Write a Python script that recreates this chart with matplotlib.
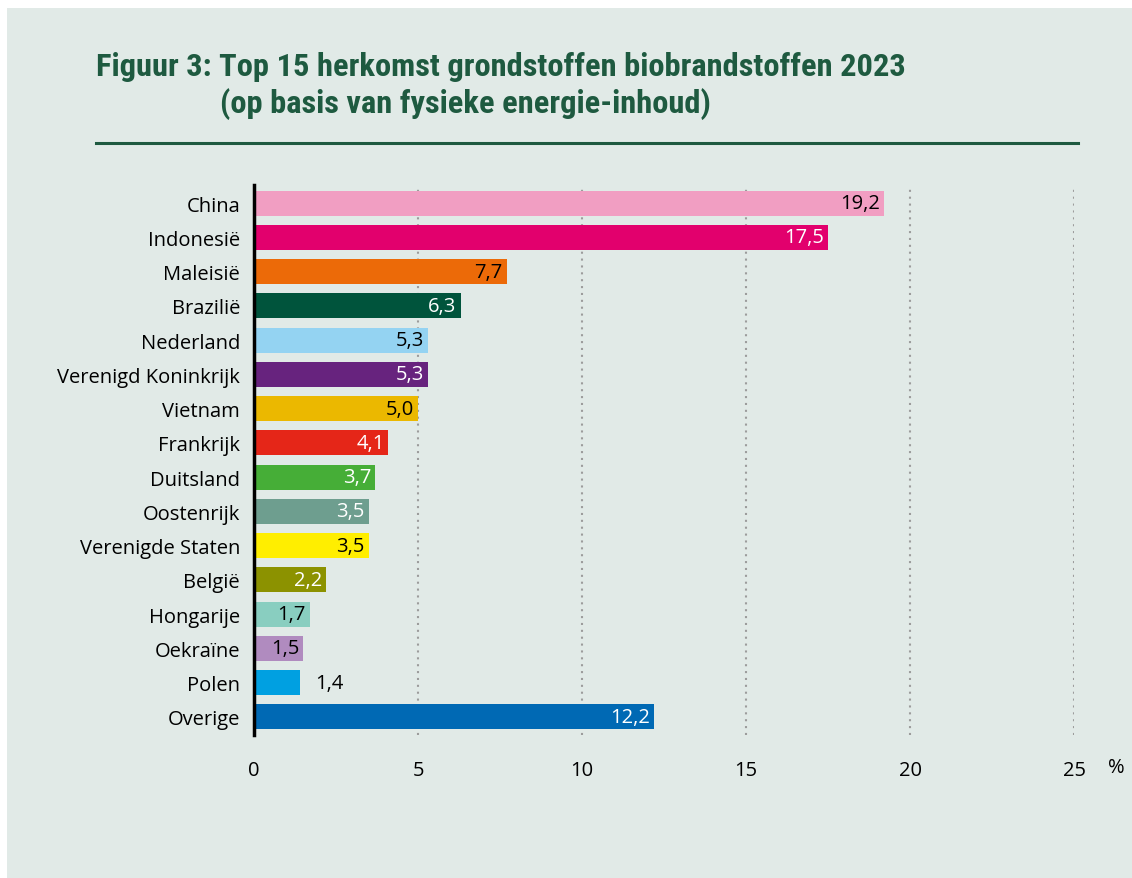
import matplotlib.pyplot as plt
from matplotlib.patches import Rectangle
from matplotlib.lines import Line2D
from matplotlib import font_manager

countries = ["China", "Indonesië", "Maleisië", "Brazilië", "Nederland",
             "Verenigd Koninkrijk", "Vietnam", "Frankrijk", "Duitsland",
             "Oostenrijk", "Verenigde Staten", "België", "Hongarije",
             "Oekraïne", "Polen", "Overige"]
shares = [19.2, 17.5, 7.7, 6.3, 5.3, 5.3, 5.0, 4.1, 3.7, 3.5, 3.5, 2.2,
          1.7, 1.5, 1.4, 12.2]
bar_colors = ["#F19EC2", "#E2006D", "#EC6A08", "#00543C", "#94D3F2",
              "#67237E", "#EBB800", "#E52618", "#46AE37", "#6E9E8F",
              "#FFEE00", "#8C9200", "#89CEC0", "#B08BBF", "#00A0E1",
              "#0069B4"]
label_colors = ["black", "white", "black", "white", "black", "white",
                "black", "white", "white", "white", "black", "white",
                "black", "black", "black", "white"]
xticks = [0, 5, 10, 15, 20, 25]

BG = "#E1EAE7"
GREEN = "#1E5A40"
FS = 14.5

names = {f.name for f in font_manager.fontManager.ttflist}
narrow = next((f for f in ["Roboto Condensed", "Open Sans Condensed", "Liberation Sans Narrow",
                           "DejaVu Sans Condensed", "Open Sans"] if f in names), "DejaVu Sans")
plt.rcParams["font.family"] = ["Open Sans", "DejaVu Sans"]

W, H = 1132, 879
fig = plt.figure(figsize=(W / 100, H / 100), dpi=100, facecolor="white")
fig.patches.append(Rectangle((7 / W, 0), 1, 1 - 9 / H, transform=fig.transFigure,
                             facecolor=BG, edgecolor="none", zorder=-5))

# title block, sized so the first line spans roughly 96..910 px
t1 = fig.text(96 / W, 1 - 67 / H, "Figuur 3: Top 15 herkomst grondstoffen biobrandstoffen 2023",
              family=narrow, fontweight="bold", fontsize=19.5, color=GREEN, va="center")
t2 = fig.text(220 / W, 1 - 104 / H, "(op basis van fysieke energie-inhoud)",
              family=narrow, fontweight="bold", fontsize=19.5, color=GREEN, va="center")
renderer = fig.canvas.get_renderer()
w = t1.get_window_extent(renderer).width
fs = min(24, 19.5 * 812 / w)
t1.set_fontsize(fs)
t2.set_fontsize(fs)
fig.lines.append(Line2D([96 / W, 1078 / W], [1 - 144 / H] * 2, transform=fig.transFigure,
                        color=GREEN, lw=2.2))

# axes: x 0..25 maps to px 254..1074, bars centred 204..719
x0, x1 = 254, 1074
ax = fig.add_axes([x0 / W, 1 - 736 / H, (x1 - x0) / W, (736 - 186) / H])
ax.set_facecolor("none")
n = len(countries)
ypos = list(range(n))
ax.barh(ypos, shares, height=0.73, color=bar_colors, zorder=2)
ax.set_xlim(0, 25)
ax.set_ylim(n - 1 + 0.53, -0.53)

for y, v, c in zip(ypos, shares, label_colors):
    txt = f"{v:.1f}".replace(".", ",")
    if v < 1.45:
        ax.text(v + 0.45, y, txt, ha="left", va="center", fontsize=FS, color=c, zorder=3)
    else:
        ax.text(v - 0.12, y, txt, ha="right", va="center", fontsize=FS, color=c, zorder=3)

for xv in xticks[1:]:
    ax.axvline(xv, color="#9C9C9C", lw=1.5, linestyle=(0, (1, 2.3)), zorder=1)

ax.set_yticks(ypos)
ax.set_yticklabels(countries, fontsize=FS)
ax.set_xticks(xticks)
ax.set_xticklabels([str(t) for t in xticks], fontsize=FS)
ax.tick_params(axis="y", length=0, pad=10)
ax.tick_params(axis="x", length=0, pad=18)
for side in ["top", "right", "bottom"]:
    ax.spines[side].set_visible(False)
ax.spines["left"].set_linewidth(2.5)
ax.spines["left"].set_color("black")
ax.spines["left"].set_zorder(4)

fig.text(1116 / W, 1 - 768 / H, "%", fontsize=FS, ha="center", va="center")

fig.savefig("out.png", dpi=100, facecolor="white")
